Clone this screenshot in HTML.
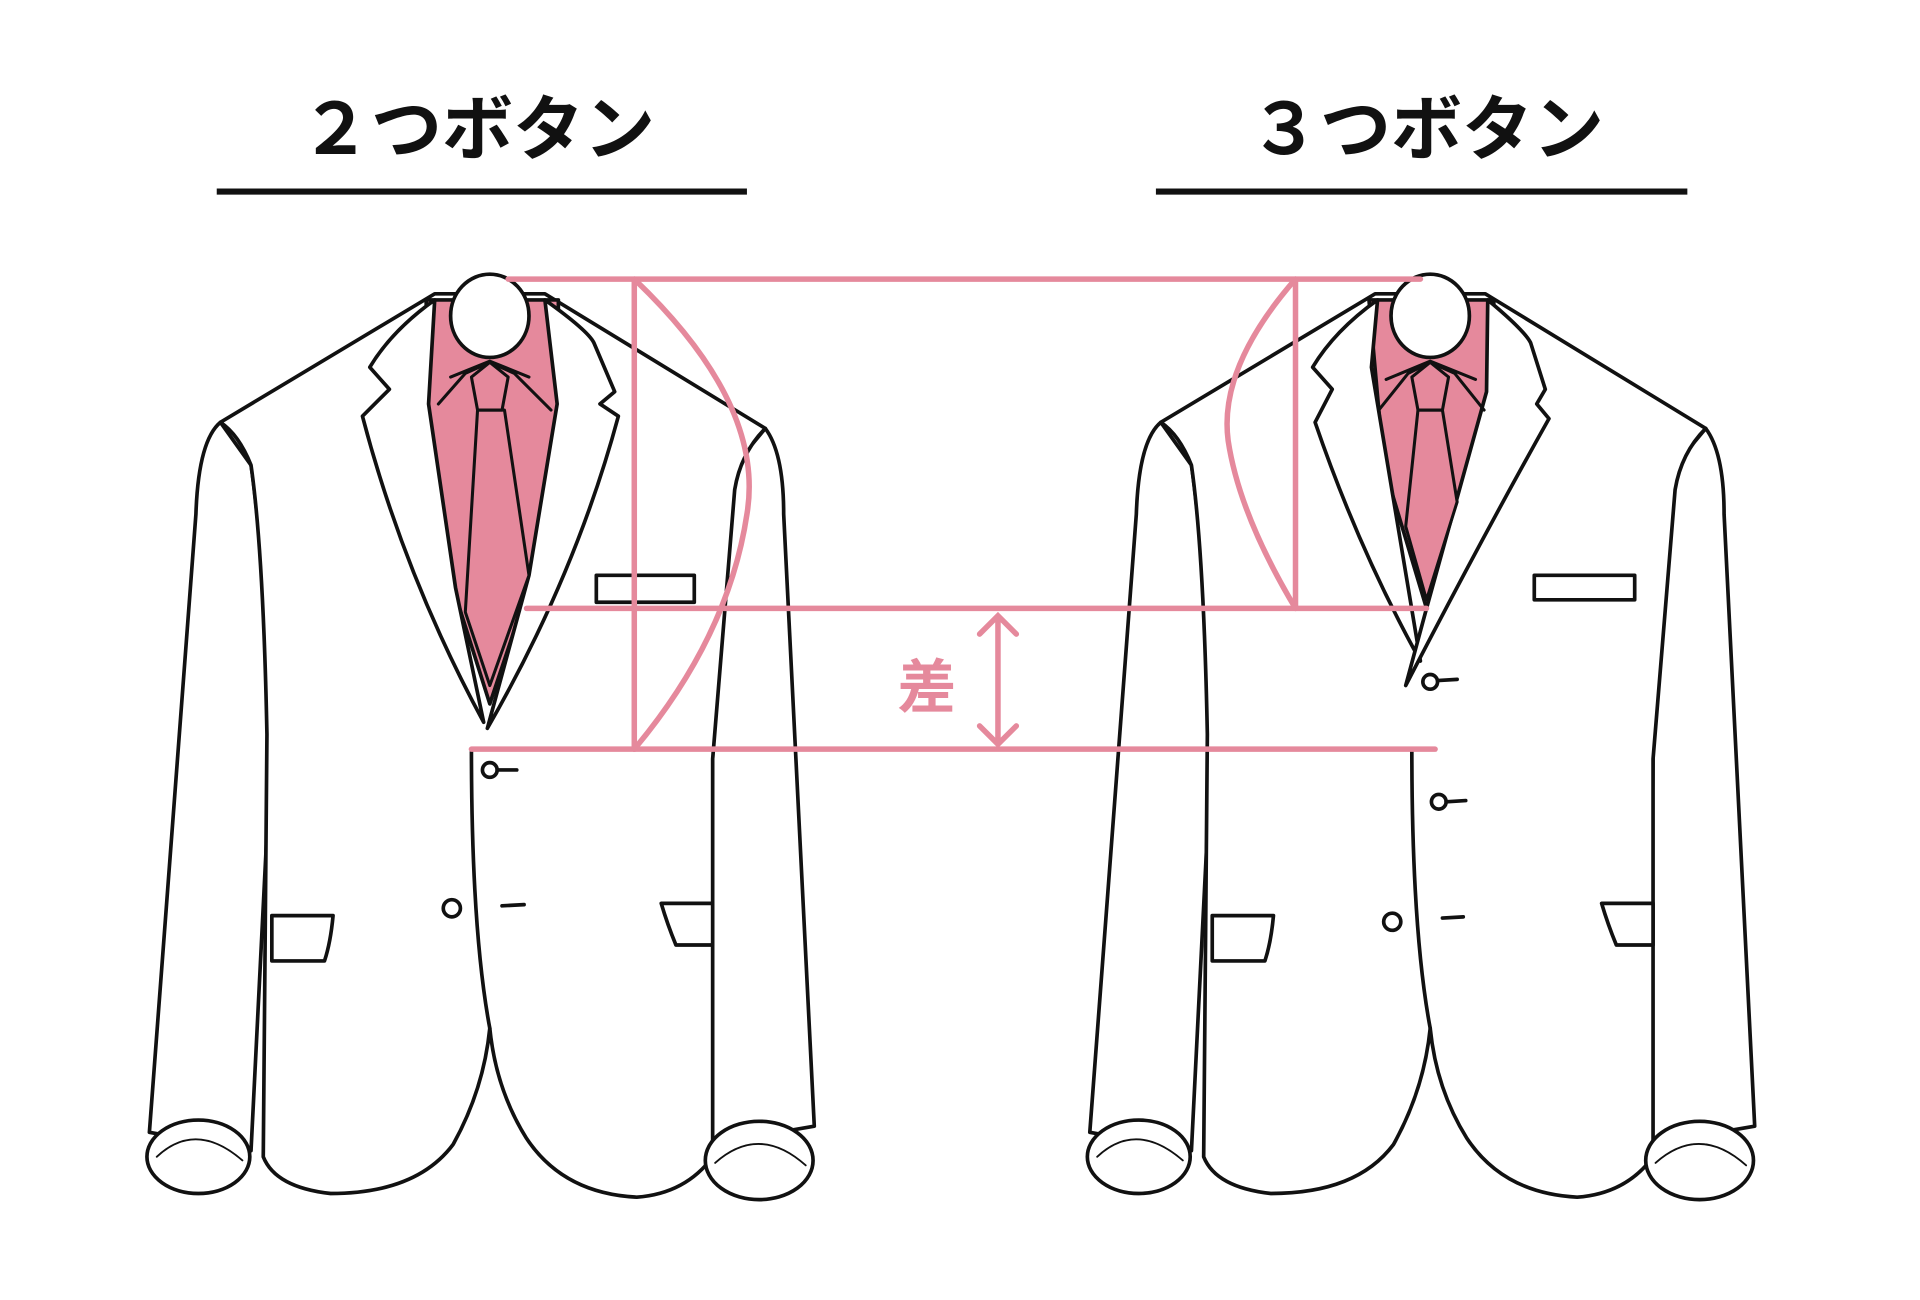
<!DOCTYPE html>
<html><head><meta charset="utf-8"><style>
html,body{margin:0;padding:0;background:#fff;}
svg{display:block;}
</style></head><body>
<svg width="1920" height="1300" viewBox="0 0 1568 1062" preserveAspectRatio="none" xmlns="http://www.w3.org/2000/svg">
<defs>
<g id="jk" fill="#fff" stroke="#111" stroke-width="3" stroke-linejoin="round" stroke-linecap="round">
  <path d="M180 345 Q162 360 160 420 L122 925 L205 940 L222 600 Q215 450 205 380 Z"/>
  <path d="M625 350 Q640 370 640 420 L665 920 L578 935 L582 620 Q585 450 600 380 Z"/>
  <path d="M180 345 L355 240 L445 240 L625 350 Q605 370 600 400 L582 620 L582 945 Q560 975 520 978 Q460 975 430 930 Q405 890 400 840 Q395 890 370 935 Q340 975 270 975 Q225 970 215 945 L218 600 Q215 450 205 380 Q195 355 180 345 Z"/>
  <path d="M385 612 Q385 760 400 840" fill="none"/>
  <ellipse cx="162" cy="945" rx="42" ry="30"/>
  <path d="M128 945 Q160 915 198 948" fill="none" stroke-width="1.5"/>
  <ellipse cx="620" cy="948" rx="44" ry="32"/>
  <path d="M584 950 Q620 918 658 952" fill="none" stroke-width="1.5"/>
  <path d="M222 748 L272 748 Q270 770 265 785 L222 785 Z"/>
  <path d="M540 738 L582 738 L582 772 L552 772 Q545 755 540 738 Z"/>
</g>
</defs>

<g font-family="'Liberation Sans','Noto Sans CJK JP',sans-serif" font-weight="bold" font-size="58" fill="#111" text-anchor="middle">
<text x="390" y="126">２つボタン</text>
<text x="1165" y="126">３つボタン</text>
</g>
<rect x="177" y="154" width="433" height="5" fill="#111"/>
<rect x="944" y="154" width="434" height="5" fill="#111"/>

<!-- LEFT JACKET -->
<use href="#jk"/>
<g fill="none" stroke="#111" stroke-width="3" stroke-linejoin="round" stroke-linecap="round">
  <path d="M348 245 L456 245 L456 340 L435 470 L400 575 L370 480 L350 340 Z" fill="#e5899c"/>
  <path d="M355 245 Q320 270 302 300 L318 318 L296 340 Q330 470 395 590 L372 480 L350 330 Z" fill="#fff"/>
  <path d="M445 245 Q480 270 485 280 L502 320 L490 330 L505 340 Q470 470 398 595 L432 470 L455 330 Z" fill="#fff"/>
  <path d="M368 308 L400 295 L432 308 M358 330 L380 305 L400 296 L420 305 L450 335" stroke-width="2.5"/>
  <path d="M390 335 L380 500 L400 560 L432 470 L412 335 Z" fill="#e5899c" stroke-width="2.5"/>
  <path d="M385 308 L400 296 L415 308 L410 335 L390 335 Z" fill="#e5899c" stroke-width="2.5"/>
  <ellipse cx="400" cy="258" rx="32" ry="34" fill="#fff"/>
  <rect x="487" y="470" width="80" height="22" fill="#fff"/>
  <circle cx="400" cy="629" r="6" fill="#fff"/><path d="M406 629 L422 629"/>
  <circle cx="369" cy="742" r="7" fill="#fff"/><path d="M410 740 L428 739"/>
</g>

<!-- RIGHT JACKET -->
<use href="#jk" transform="translate(768,0)"/>
<g fill="none" stroke="#111" stroke-width="3" stroke-linejoin="round" stroke-linecap="round">
  <path d="M1118 245 L1220 245 L1218 330 L1165 497 L1130 380 Z" fill="#e5899c"/>
  <path d="M1125 245 Q1090 270 1072 300 L1088 318 L1074 345 Q1110 450 1160 540 L1140 420 L1120 300 Z" fill="#fff"/>
  <path d="M1215 245 Q1245 270 1250 280 L1262 318 L1255 330 L1265 342 Q1210 440 1148 560 L1165 497 L1214 320 Z" fill="#fff"/>
  <path d="M1132 310 L1168 295 L1205 310 M1126 335 L1150 305 L1168 296 L1188 305 L1212 335" stroke-width="2.5"/>
  <path d="M1158 335 L1148 430 L1165 490 L1190 410 L1178 335 Z" fill="#e5899c" stroke-width="2.5"/>
  <path d="M1153 308 L1168 296 L1183 308 L1178 335 L1158 335 Z" fill="#e5899c" stroke-width="2.5"/>
  <ellipse cx="1168" cy="258" rx="32" ry="34" fill="#fff"/>
  <rect x="1253" y="470" width="82" height="20" fill="#fff"/>
  <circle cx="1168" cy="557" r="6" fill="#fff"/><path d="M1174 556 L1190 555"/>
  <circle cx="1175" cy="655" r="6" fill="#fff"/><path d="M1181 655 L1197 654"/>
  <circle cx="1137" cy="753" r="7" fill="#fff"/><path d="M1178 750 L1195 749"/>
</g>

<g fill="none" stroke="#e5899c" stroke-width="4.5" stroke-linecap="round">
  <path d="M415 228 L1160 228"/>
  <path d="M518 228 L518 612"/>
  <path d="M1058 228 L1058 497"/>
  <path d="M430 497 L1165 497"/>
  <path d="M385 612 L1172 612"/>
  <path d="M518 228 Q625 330 610 420 Q595 520 518 612"/>
  <path d="M1058 228 Q995 300 1003 360 Q1012 420 1058 497"/>
  <path d="M815 503 L815 608 M800 518 L815 503 L830 518 M800 593 L815 608 L830 593"/>
</g>
<text x="757" y="578" font-family="'Liberation Sans','Noto Sans CJK JP',sans-serif" font-weight="bold" font-size="48" fill="#e5899c" text-anchor="middle">差</text>
</svg>
</body></html>
